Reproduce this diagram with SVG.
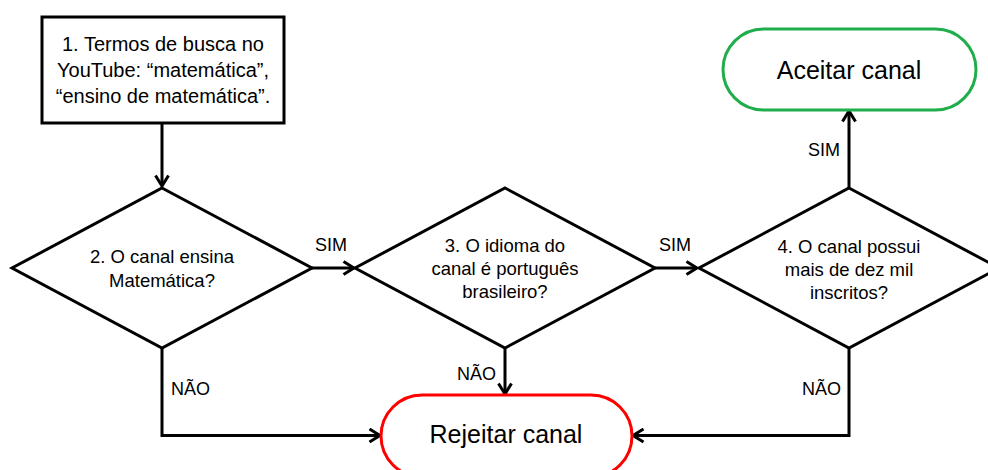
<svg xmlns="http://www.w3.org/2000/svg" width="988" height="470" viewBox="0 0 988 470">
<style>
.shape{fill:#fff;stroke:#000;stroke-width:3}
.t{font-family:"Liberation Sans",Arial,sans-serif;fill:#000;text-anchor:middle}
.box{font-size:20px}
.dia{font-size:18.5px}
.term{font-size:25px}
.lbl{font-family:"Liberation Sans",Arial,sans-serif;font-size:18px;fill:#000}
.conn{fill:none;stroke:#000;stroke-width:3}
</style>
<defs>
<marker id="arr" viewBox="0 0 14 16" refX="12" refY="8" markerWidth="14" markerHeight="16" markerUnits="userSpaceOnUse" orient="auto">
<path d="M1.5,1.5 L12,8 L1.5,14.5" fill="none" stroke="#000" stroke-width="3"/>
</marker>
</defs>
<rect width="988" height="470" fill="#fff"/>
<g id="connectors">
<path class="conn" d="M162,123 V186" marker-end="url(#arr)"/>
<path class="conn" d="M312,268 H354" marker-end="url(#arr)"/>
<path class="conn" d="M655,268 H697" marker-end="url(#arr)"/>
<path class="conn" d="M849,188 V111" marker-end="url(#arr)"/>
<path class="conn" d="M162,348 V435.5 H380" marker-end="url(#arr)"/>
<path class="conn" d="M505,348 V394" marker-end="url(#arr)"/>
<path class="conn" d="M849,348 V435.5 H633" marker-end="url(#arr)"/>
<text class="lbl" x="315" y="251">SIM</text>
<text class="lbl" x="659" y="251">SIM</text>
<text class="lbl" x="808" y="156">SIM</text>
<text class="lbl" x="171" y="395">NÃO</text>
<text class="lbl" x="457" y="380">NÃO</text>
<text class="lbl" x="802" y="395">NÃO</text>
</g>
<g id="node1">
<rect class="shape" x="42" y="17" width="242" height="106"/>
<text class="t box" x="163" y="51">1. Termos de busca no</text>
<text class="t box" x="163" y="77">YouTube: “matemática”,</text>
<text class="t box" x="163" y="103">“ensino de matemática”.</text>
</g>
<g id="node2">
<polygon class="shape" points="162,188 312,268 162,348 12,268"/>
<text class="t dia" x="162" y="263">2. O canal ensina</text>
<text class="t dia" x="162" y="287">Matemática?</text>
</g>
<g id="node3">
<polygon class="shape" points="505,188 655,268 505,348 355,268"/>
<text class="t dia" x="505" y="252">3. O idioma do</text>
<text class="t dia" x="505" y="275">canal é português</text>
<text class="t dia" x="505" y="298">brasileiro?</text>
</g>
<g id="node4">
<polygon class="shape" points="849,188 999,268 849,348 699,268"/>
<text class="t dia" x="849" y="253">4. O canal possui</text>
<text class="t dia" x="849" y="276">mais de dez mil</text>
<text class="t dia" x="849" y="299">inscritos?</text>
</g>
<g id="accept">
<rect x="723" y="29" width="253" height="81" rx="40.5" fill="#fff" stroke="#1fae4b" stroke-width="3"/>
<text class="t term" x="849" y="79">Aceitar canal</text>
</g>
<g id="reject">
<rect x="381" y="395" width="251" height="82" rx="41" fill="#fff" stroke="#ff0000" stroke-width="3"/>
<text class="t term" x="506" y="443">Rejeitar canal</text>
</g>
</svg>
